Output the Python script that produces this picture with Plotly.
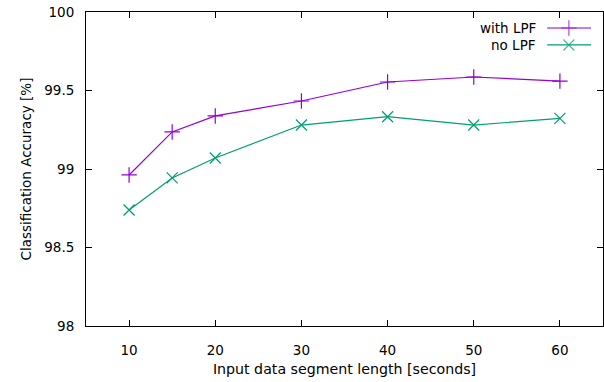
import plotly.graph_objects as go

segment_len = [10, 15, 20, 30, 40, 50, 60]
with_lpf = [98.962, 99.236, 99.338, 99.433, 99.554, 99.586, 99.560]
no_lpf = [98.739, 98.943, 99.070, 99.280, 99.333, 99.280, 99.322]
x_ticks = [10, 20, 30, 40, 50, 60]
y_ticks = [98, 98.5, 99, 99.5, 100]
y_tick_text = ["98", "98.5", "99", "99.5", "100"]

PURPLE = "#9400d3"
GREEN = "#009e73"
FONT = "DejaVu Sans"
FS = 13.5

fig = go.Figure()
fig.add_trace(go.Scatter(x=segment_len, y=with_lpf, mode="lines+markers", name="with LPF",
                         line=dict(color=PURPLE, width=1.2),
                         marker=dict(symbol="cross-thin", size=11, line=dict(color=PURPLE, width=1.2))))
fig.add_trace(go.Scatter(x=segment_len, y=no_lpf, mode="lines+markers", name="no LPF",
                         line=dict(color=GREEN, width=1.2),
                         marker=dict(symbol="x-thin", size=11, line=dict(color=GREEN, width=1.2))))

# custom gnuplot-style legend (sample lines on the right of the text)
leg_x = [0.892, 0.934, 0.977]
leg_rows = [(0.949, "with LPF", PURPLE, "cross-thin"), (0.895, "no LPF", GREEN, "x-thin")]
for yy, label, col, sym in leg_rows:
    fig.add_trace(go.Scatter(x=leg_x, y=[yy] * 3, mode="lines+markers", xaxis="x2", yaxis="y2",
                             showlegend=False, hoverinfo="skip",
                             line=dict(color=col, width=1.2),
                             marker=dict(symbol=sym, size=[0, 11, 0], line=dict(color=col, width=1.2))))
    fig.add_annotation(x=0.874, y=yy, xref="paper", yref="paper", text=label, showarrow=False,
                       xanchor="right", yanchor="middle", font=dict(family=FONT, size=FS, color="black"))

fig.update_layout(
    width=604, height=382,
    margin=dict(l=86, r=1, t=12, b=56),
    paper_bgcolor="white", plot_bgcolor="white",
    showlegend=False, hovermode=False,
    font=dict(family=FONT, size=FS, color="black"),
    xaxis=dict(range=[5, 65], tickvals=x_ticks, ticks="inside", ticklen=6, tickcolor="black",
               showline=True, linecolor="black", linewidth=1, mirror="ticks", showgrid=False,
               zeroline=False, ticklabelstandoff=12, automargin=False,
               title=dict(text="Input data segment length [seconds]", standoff=6,
                          font=dict(family=FONT, size=14.2, color="black"))),
    yaxis=dict(range=[98, 100], tickvals=y_ticks, ticktext=y_tick_text, ticks="inside", ticklen=6,
               tickcolor="black", showline=True, linecolor="black", linewidth=1, mirror="ticks",
               showgrid=False, zeroline=False, ticklabelstandoff=8, automargin=False,
               title=dict(text="Classification Accuracy [%]", standoff=9,
                          font=dict(family=FONT, size=FS, color="black"))),
    xaxis2=dict(range=[0, 1], overlaying="x", visible=False, fixedrange=True),
    yaxis2=dict(range=[0, 1], overlaying="y", visible=False, fixedrange=True),
)

fig.write_html("out.html", config={"displayModeBar": False},
               post_script="document.body.style.margin='0';")
